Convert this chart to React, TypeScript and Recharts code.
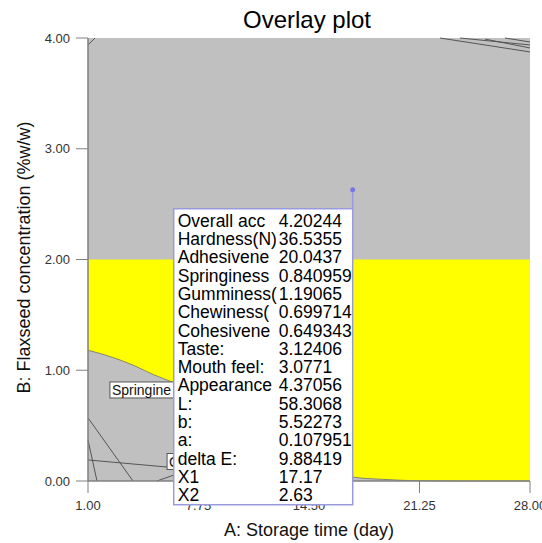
import React from 'react'
import { ComposedChart, Area, Line, Scatter, XAxis, YAxis, CartesianGrid, Label } from 'recharts'

// storage time (day) vs flaxseed concentration (%w/w)
const xTicks = [1, 7.75, 14.5, 21.25, 28]
const yTicks = [0, 1, 2, 3, 4]

// yellow (feasible) band: lower edge is the curved boundary, upper edge is 2.00
const bandDays = [1, 2, 3, 4, 5, 6.2, 8, 10, 12, 14, 16, 17.2, 19, 21, 24, 28]
const bandLower = [1.18, 1.14, 1.09, 1.03, 0.96, 0.89, 0.74, 0.55, 0.37, 0.21, 0.09, 0.035, 0.015, 0.003, 0, 0]
const bandUpper = [2, 2, 2, 2, 2, 2, 2, 2, 2, 2, 2, 2, 2, 2, 2, 2]

// thin contour lines left in the grey (infeasible) areas, [day, conc]
const contourLines: [number, number][][] = [
  [[1, 0.57], [3.75, 0]],
  [[1, 0.37], [1.55, 0]],
  [[1, 0.19], [5.83, 0.126], [7, 0.11]],
  [[5.21, 0], [6.25, 0.054]],
  [[1, 3.937], [1.43, 4]],
  [[22.5, 4], [28, 3.874]],
  [[23.72, 4], [28, 3.937]],
  [[25.25, 3.99], [28, 3.91]],
  [[26.47, 4], [28, 3.964]],
]

// region labels sitting in the plot (left-middle anchor)
const regionLabels = [
  { day: 2.34, v: 0.822, text: 'Springine' },
  { day: 5.83, v: 0.176, text: 'Cohesivene' },
]

// flag point and its readout
const flagPoint = [{ day: 17.17, v: 2.63 }]
const flagNames = ['Overall acc', 'Hardness(N)', 'Adhesivene', 'Springiness', 'Gumminess(', 'Chewiness(', 'Cohesivene', 'Taste:', 'Mouth feel:', 'Appearance', 'L:', 'b:', 'a:', 'delta E:', 'X1', 'X2']
const flagValues = ['4.20244', '36.5355', '20.0437', '0.840959', '1.19065', '0.699714', '0.649343', '3.12406', '3.0771', '4.37056', '58.3068', '5.52273', '0.107951', '9.88419', '17.17', '2.63']

const FONT = 'Arial, "Liberation Sans", sans-serif'
const AXIS = '#808080'

const bandData = bandDays.map((d, i) => ({ day: d, band: [bandLower[i], bandUpper[i]], low: bandLower[i] }))

function RegionLabel(props: any) {
  const { cx, cy, payload } = props
  if (cx == null) return null
  return (
    <g>
      <rect x={cx} y={cy - 8} width={78} height={16} fill="#fff" stroke="#555" strokeWidth={1} />
      <text x={cx + 2} y={cy + 5} fontSize={14} fontFamily={FONT} fill="#111">{payload.text}</text>
    </g>
  )
}

function FlagBox(props: any) {
  const { cx, cy } = props
  if (cx == null) return null
  const w = 179
  const h = 296
  const left = cx - w
  const top = cy + 19
  return (
    <g>
      <defs>
        <clipPath id="flagClip">
          <rect x={left} y={top} width={w} height={h} />
        </clipPath>
        <clipPath id="nameClip">
          <rect x={left} y={top} width={103} height={h} />
        </clipPath>
      </defs>
      <line x1={cx} y1={cy} x2={cx} y2={top} stroke="#9999dd" strokeWidth={1.5} />
      <circle cx={cx} cy={cy} r={2.5} fill="#7777dd" />
      <rect x={left} y={top} width={w} height={h} fill="#fff" stroke="#9999dd" strokeWidth={1.5} />
      <g clipPath="url(#flagClip)" fontSize={17.5} fontFamily={FONT} fill="#000">
        {flagNames.map((n, i) => (
          <text key={n} x={left + 4} y={top + 18 + i * 18.3} clipPath="url(#nameClip)">{n}</text>
        ))}
        {flagValues.map((v, i) => (
          <text key={i} x={left + 105} y={top + 18 + i * 18.3}>{v}</text>
        ))}
      </g>
    </g>
  )
}

export default function App() {
  return (
    <div style={{ position: 'absolute', left: 0, top: 0, background: '#fff' }}>
      <ComposedChart width={542} height={543} data={bandData} margin={{ top: 38, right: 12, bottom: 0, left: 0 }}>
        <CartesianGrid fill="#c0c0c0" stroke="none" horizontal={false} vertical={false} />
        <XAxis
          dataKey="day"
          type="number"
          domain={[1, 28]}
          ticks={xTicks}
          interval={0}
          tickFormatter={(v: number) => v.toFixed(2)}
          tickSize={12}
          tickMargin={8}
          height={62}
          axisLine={{ stroke: AXIS, strokeWidth: 1.5 }}
          tickLine={{ stroke: AXIS }}
          tick={{ fill: '#333', fontSize: 13, fontFamily: FONT }}
        >
          <Label value="A: Storage time (day)" position="insideBottom" offset={7} style={{ fontSize: 18, fontFamily: FONT, fill: '#111' }} />
          <Label
            content={(p: any) => {
              const vb = p.viewBox || { x: 88, y: 481, width: 442, height: 62 }
              return (
                <text x={vb.x + vb.width / 2 - 2} y={28} textAnchor="middle" fontSize={24} fontFamily={FONT} fill="#000">
                  Overlay plot
                </text>
              )
            }}
          />
        </XAxis>
        <XAxis xAxisId="top" orientation="top" type="number" domain={[1, 28]} height={0} tick={false} tickLine={false} axisLine={{ stroke: '#666', strokeWidth: 1.5 }} />
        <YAxis
          type="number"
          domain={[0, 4]}
          ticks={yTicks}
          interval={0}
          tickFormatter={(v: number) => v.toFixed(2)}
          tickSize={12}
          tickMargin={6}
          width={88}
          axisLine={{ stroke: AXIS, strokeWidth: 1.5 }}
          tickLine={{ stroke: AXIS }}
          tick={{ fill: '#333', fontSize: 13, fontFamily: FONT }}
        >
          <Label
            content={(p: any) => {
              const vb = p.viewBox || { x: 0, y: 38, width: 88, height: 443 }
              const x = vb.x + 30
              const y = vb.y + vb.height / 2 - 2
              return (
                <text x={x} y={y} transform={`rotate(-90 ${x} ${y})`} textAnchor="middle" fontSize={18} fontFamily={FONT} fill="#111">
                  B: Flaxseed concentration (%w/w)
                </text>
              )
            }}
          />
        </YAxis>
        <YAxis yAxisId="right" orientation="right" type="number" domain={[0, 4]} width={0} tick={false} tickLine={false} axisLine={{ stroke: AXIS, strokeWidth: 1.5 }} />

        <Area dataKey="band" type="monotone" fill="#ffff00" fillOpacity={1} stroke="none" isAnimationActive={false} />
        <Line dataKey="low" type="monotone" stroke="#707060" strokeWidth={0.8} dot={false} isAnimationActive={false} />
        {contourLines.map((seg, i) => (
          <Line
            key={i}
            data={seg.map(([d, v]) => ({ day: d, v }))}
            dataKey="v"
            stroke="#555"
            strokeWidth={1}
            dot={false}
            isAnimationActive={false}
          />
        ))}
        <Scatter data={regionLabels} dataKey="v" shape={<RegionLabel />} isAnimationActive={false} />
        <Scatter data={flagPoint} dataKey="v" shape={<FlagBox />} isAnimationActive={false} zIndex={3000} />
      </ComposedChart>
    </div>
  )
}
